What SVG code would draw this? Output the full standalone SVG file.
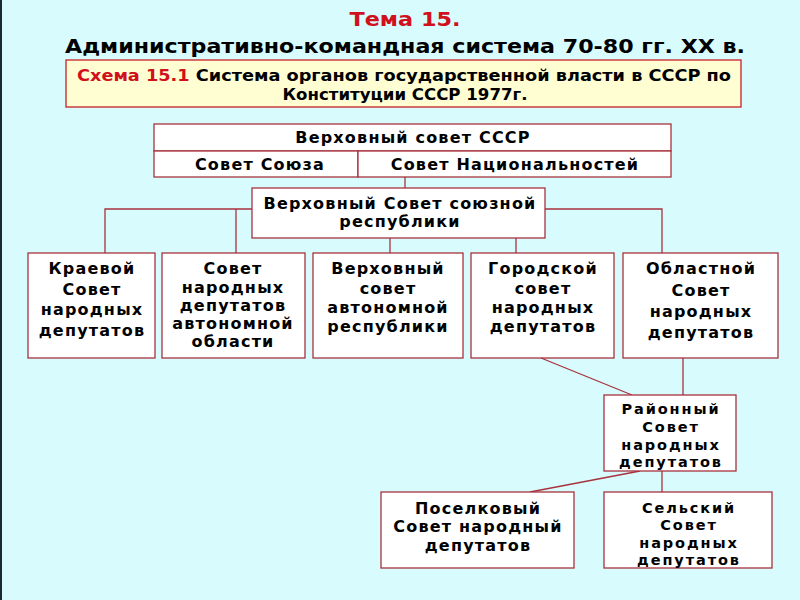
<svg xmlns="http://www.w3.org/2000/svg" width="800" height="600" viewBox="0 0 800 600">
<style>
.bg{fill:#d8fbfd}
.box{fill:#ffffff;stroke:#a8323c;stroke-width:1.3}
.hdr{fill:#fffdd2;stroke:#c8202a;stroke-width:1.3}
.ln{stroke:#a8323c;stroke-width:1.3;fill:none}
text{font-family:"DejaVu Sans","Liberation Sans",sans-serif;font-weight:bold;fill:#000;text-anchor:middle}
.t{font-size:16px;letter-spacing:1.2px}
.s{font-size:14.5px;letter-spacing:1.9px}
.c{font-family:"DejaVu Sans Condensed","DejaVu Sans",sans-serif}
.red{fill:#d0101a}
</style>
<rect class="bg" x="0" y="0" width="800" height="600"/>
<rect x="0" y="0" width="2" height="600" fill="#1a2a30"/>
<g id="title">
<text class="c red" x="405" y="26" font-size="19" textLength="111" lengthAdjust="spacingAndGlyphs">Тема 15.</text>
<text class="c" x="405" y="53" font-size="20" textLength="680" lengthAdjust="spacingAndGlyphs">Административно-командная система 70-80 гг. XX в.</text>
</g>
<g id="header">
<rect class="hdr" x="66" y="60" width="675" height="47"/>
<text class="c" x="404" y="81" font-size="16.5" textLength="654" lengthAdjust="spacingAndGlyphs"><tspan class="red">Схема 15.1</tspan> Система органов государственной власти в СССР по</text>
<text class="c" x="405" y="100" font-size="16.5" textLength="245" lengthAdjust="spacingAndGlyphs">Конституции СССР 1977г.</text>
</g>
<g id="connectors">
<line class="ln" x1="405" y1="177" x2="405" y2="188"/>
<polyline class="ln" points="252,209 105,209 105,253"/>
<line class="ln" x1="236" y1="209" x2="236" y2="253"/>
<polyline class="ln" points="545,209 662,209 662,253"/>
<line class="ln" x1="390" y1="238" x2="390" y2="253"/>
<line class="ln" x1="516" y1="238" x2="516" y2="253"/>
<line class="ln" x1="683" y1="358" x2="683" y2="395"/>
<line class="ln" x1="541" y1="358" x2="632" y2="395"/>
<line class="ln" x1="662" y1="471" x2="662" y2="492"/>
<line class="ln" x1="640" y1="471" x2="530" y2="492"/>
</g>
<g id="n-vs-sssr">
<rect class="box" x="154" y="124" width="517" height="27"/>
<rect class="box" x="154" y="151" width="204" height="26"/>
<rect class="box" x="358" y="151" width="313" height="26"/>
<text class="t" x="413" y="143">Верховный совет СССР</text>
<text class="t" x="260" y="170">Совет Союза</text>
<text class="t" x="515" y="170">Совет Национальностей</text>
</g>
<g id="n-vs-rep">
<rect class="box" x="252" y="188" width="293" height="50"/>
<text class="t" x="400" y="209">Верховный Совет союзной</text>
<text class="t" x="400" y="227">республики</text>
</g>
<g id="n-kraevoy">
<rect class="box" x="28" y="253" width="127" height="105"/>
<text class="t" x="92" y="274">Краевой</text>
<text class="t" x="92" y="295">Совет</text>
<text class="t" x="92" y="315">народных</text>
<text class="t" x="92" y="336">депутатов</text>
</g>
<g id="n-avt-obl">
<rect class="box" x="162" y="253" width="143" height="105"/>
<text class="t" x="233" y="274">Совет</text>
<text class="t" x="233" y="293">народных</text>
<text class="t" x="233" y="311">депутатов</text>
<text class="t" x="233" y="329">автономной</text>
<text class="t" x="233" y="347">области</text>
</g>
<g id="n-avt-rep">
<rect class="box" x="313" y="253" width="150" height="105"/>
<text class="t" x="388" y="274">Верховный</text>
<text class="t" x="388" y="294">совет</text>
<text class="t" x="388" y="313">автономной</text>
<text class="t" x="388" y="332">республики</text>
</g>
<g id="n-gorod">
<rect class="box" x="471" y="253" width="143" height="105"/>
<text class="t" x="543" y="274">Городской</text>
<text class="t" x="543" y="294">совет</text>
<text class="t" x="543" y="313">народных</text>
<text class="t" x="543" y="332">депутатов</text>
</g>
<g id="n-oblast">
<rect class="box" x="623" y="253" width="155" height="105"/>
<text class="t" x="701" y="274">Областной</text>
<text class="t" x="701" y="296">Совет</text>
<text class="t" x="701" y="317">народных</text>
<text class="t" x="701" y="338">депутатов</text>
</g>
<g id="n-rayon">
<rect class="box" x="604" y="395" width="132" height="76"/>
<text class="s" x="671" y="414">Районный</text>
<text class="s" x="671" y="432">Совет</text>
<text class="s" x="671" y="450">народных</text>
<text class="s" x="671" y="467">депутатов</text>
</g>
<g id="n-posel">
<rect class="box" x="381" y="492" width="193" height="76"/>
<text class="t" x="478" y="514">Поселковый</text>
<text class="t" x="478" y="532">Совет народный</text>
<text class="t" x="478" y="551">депутатов</text>
</g>
<g id="n-selsk">
<rect class="box" x="604" y="492" width="168" height="76"/>
<text class="s" x="689" y="513">Сельский</text>
<text class="s" x="689" y="530">Совет</text>
<text class="s" x="689" y="548">народных</text>
<text class="s" x="689" y="565">депутатов</text>
</g>
</svg>
